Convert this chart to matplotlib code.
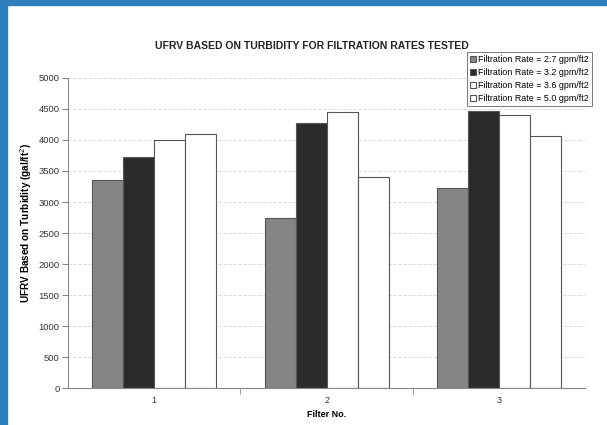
import numpy as np
import matplotlib.pyplot as plt
from matplotlib.patches import Rectangle

filters = ['1', '2', '3']
rate_labels = ['Filtration Rate = 2.7 gpm/ft2', 'Filtration Rate = 3.2 gpm/ft2',
               'Filtration Rate = 3.6 gpm/ft2', 'Filtration Rate = 5.0 gpm/ft2']
rate_27 = [3350, 2740, 3230]
rate_32 = [3730, 4270, 4470]
rate_36 = [4000, 4450, 4400]
rate_50 = [4090, 3400, 4060]

series = [rate_27, rate_32, rate_36, rate_50]
colors = ['#858585', '#2b2b2b', '#ffffff', '#ffffff']

plt.rcParams['font.family'] = ['Liberation Sans', 'DejaVu Sans']

fig = plt.figure(figsize=(6.07, 4.25), dpi=100)
# blue slide border from the scan
fig.patches.append(Rectangle((0, 0), 7 / 607, 1, transform=fig.transFigure, color='#2d7fc0', zorder=0))
fig.patches.append(Rectangle((0, 1 - 5 / 425), 1, 5 / 425, transform=fig.transFigure, color='#2d7fc0', zorder=0))

ax = fig.add_axes([0.112, 0.087, 0.852, 0.7295])
x = np.arange(len(filters))
w = 0.18
for i, vals in enumerate(series):
    ax.bar(x + (i - 1.5) * w, vals, w, color=colors[i], edgecolor='#555555',
           linewidth=0.8, label=rate_labels[i], zorder=2)

ax.set_xlim(-0.5, 2.5)
ax.set_ylim(0, 5000)
ax.set_yticks(np.arange(0, 5001, 500))
ax.yaxis.grid(True, color='#d4d4d4', linewidth=0.6, linestyle=(0, (4, 2)), zorder=0)
ax.set_xticks(x)
ax.set_xticklabels(filters)
ax.set_xticks([0.5, 1.5], minor=True)
ax.tick_params(axis='x', which='major', length=0, labelsize=6.5, pad=6, colors='#333333')
ax.tick_params(axis='x', which='minor', length=4, color='#888888')
ax.tick_params(axis='y', length=4, pad=2, color='#888888', labelsize=6.8, labelcolor='#333333')
for s in ['top', 'right']:
    ax.spines[s].set_visible(False)
for s in ['left', 'bottom']:
    ax.spines[s].set_color('#888888')
    ax.spines[s].set_linewidth(0.8)

ax.set_xlabel('Filter No.', fontsize=6.5, fontweight='bold', labelpad=3)
ax.set_ylabel('UFRV Based on Turbidity (gal/ft$^2$)', fontsize=7.2, fontweight='bold')
ax.yaxis.set_label_coords(-0.066, 0.532)
fig.text(0.514, 0.892, 'UFRV BASED ON TURBIDITY FOR FILTRATION RATES TESTED',
         ha='center', va='center', fontsize=7.5, fontweight='bold', color='#222222')

leg = ax.legend(loc='upper right', bbox_to_anchor=(1.0135, 1.084), fontsize=6.4, frameon=True,
                fancybox=False, edgecolor='#555555', handlelength=0.7, handleheight=0.7,
                handletextpad=0.2, borderpad=0.35, labelspacing=0.45, borderaxespad=0)
leg.get_frame().set_linewidth(0.7)

fig.savefig('out.png', dpi=100)
